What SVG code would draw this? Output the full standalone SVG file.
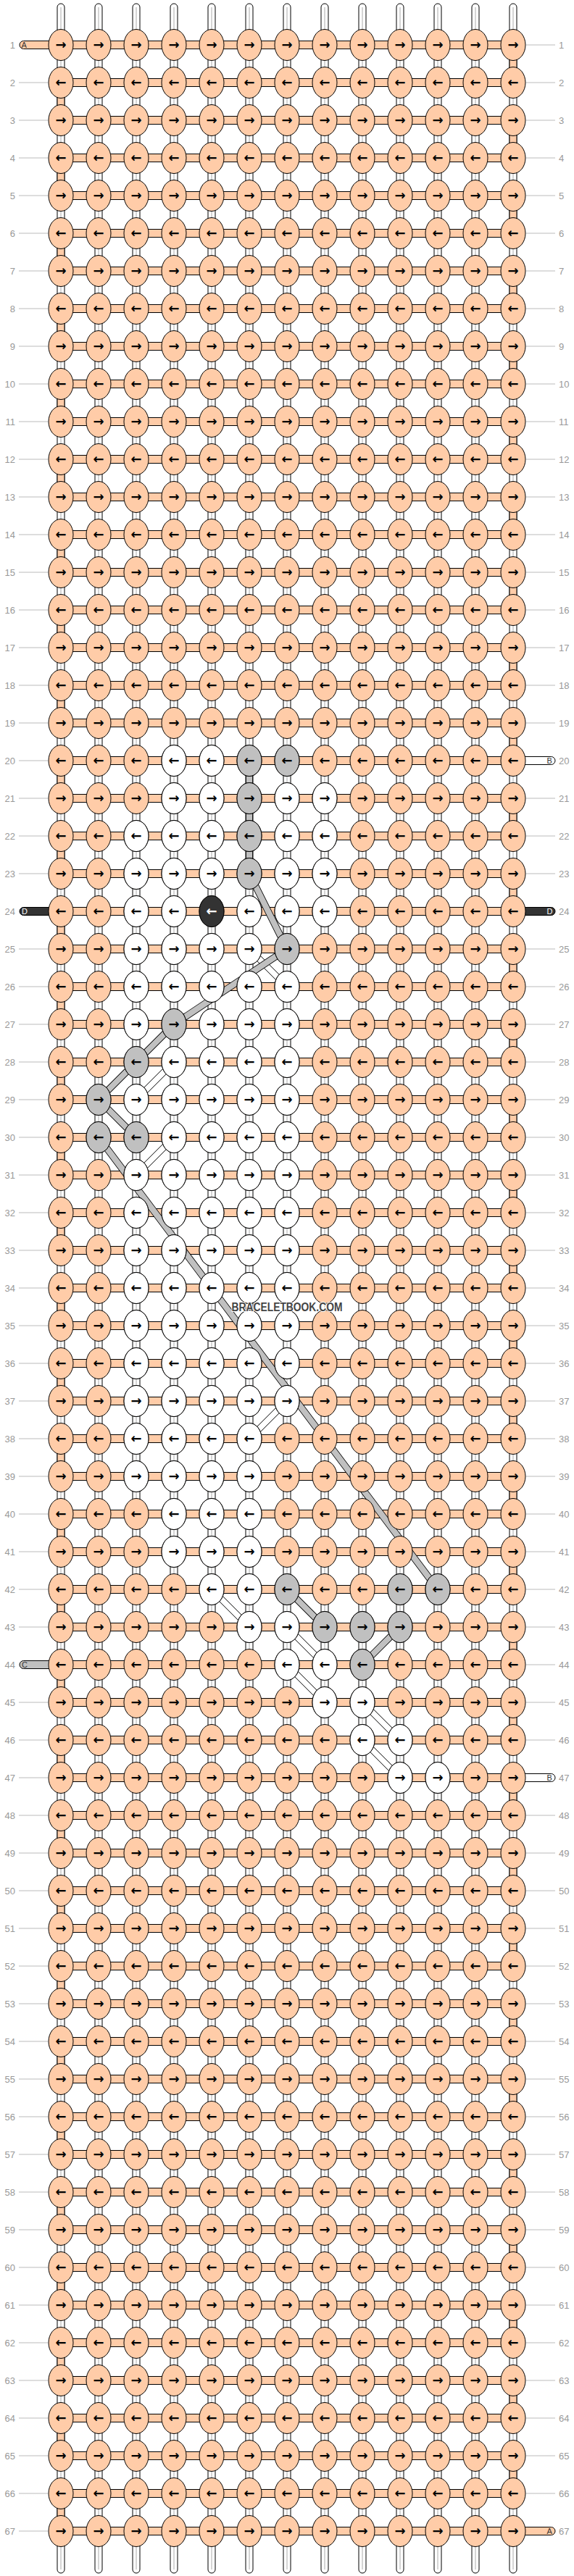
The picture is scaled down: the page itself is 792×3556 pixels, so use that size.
<svg xmlns="http://www.w3.org/2000/svg" xmlns:xlink="http://www.w3.org/1999/xlink" width="792" height="3556" viewBox="0 0 792 3556">
<style>
.s{fill:#ffcca8}.w{fill:#fff}.g{fill:#c0c0c0}.d{fill:#333}
.k{stroke:#000;stroke-width:1}
.a{font:bold 18px "DejaVu Sans",sans-serif;text-anchor:middle;fill:#000}
.n{font:13px "Liberation Sans",Arial,sans-serif;fill:#999}
.r{text-anchor:end}
.ln{stroke:#bbb;stroke-width:1;fill:none}
.vs{fill:#fff;stroke:#000}
.vl{stroke:#aaa;stroke-width:1}
.hs{fill:#ffcca8;stroke:#000}
.bo{fill:none;stroke:#000;stroke-width:9.6}
.bi{fill:none;stroke:#c0c0c0;stroke-width:8}
.wo{fill:none;stroke:#000;stroke-width:9}
.wi{fill:none;stroke:#fff;stroke-width:7.6}
.lt{font:11px "Liberation Sans",Arial,sans-serif;fill:#333}
.lw{fill:#fff}
.wm{font:bold 16px "Liberation Sans",Arial,sans-serif;fill:#444;stroke:#fff;stroke-width:2;paint-order:stroke;text-anchor:middle}
</style>
<defs>
<ellipse id="e" class="k" rx="17" ry="21.5"/>
<g id="R"><use href="#e" x="84"/><use href="#e" x="136"/><use href="#e" x="188"/><use href="#e" x="240"/><use href="#e" x="292"/><use href="#e" x="344"/><use href="#e" x="396"/><use href="#e" x="448"/><use href="#e" x="500"/><use href="#e" x="552"/><use href="#e" x="604"/><use href="#e" x="656"/><use href="#e" x="708"/></g>
<rect id="H" x="84" y="-5.5" width="624" height="11" class="hs"/>
<rect id="T" x="-5" y="20" width="10" height="12" class="hs"/>
<g id="V"><rect x="-5" y="5" width="10" height="3547" rx="5" class="vs"/><line x1="0" x2="0" y1="10" y2="3547" class="vl"/></g>
<path id="gb" d="M344 1050V1206M344 1206L396 1310M396 1310L240 1414M240 1414L136 1518M136 1518L188 1570M136 1570L604 2194M396 2194L448 2246M500 2298L552 2246"/>
<path id="wb" d="M344 1310L396 1362M188 1518L240 1466M188 1622L240 1570M344 1986L396 1934M292 2194L344 2246M396 2246L448 2298M396 2298L448 2350M500 2350L552 2402M500 2402L552 2454"/>
</defs>
<rect width="792" height="3556" fill="#fff"/>
<g id="connectors">
<g id="warp"><use href="#V" x="84"/><use href="#V" x="136"/><use href="#V" x="188"/><use href="#V" x="240"/><use href="#V" x="292"/><use href="#V" x="344"/><use href="#V" x="396"/><use href="#V" x="448"/><use href="#V" x="500"/><use href="#V" x="552"/><use href="#V" x="604"/><use href="#V" x="656"/><use href="#V" x="708"/></g>
<g id="weft"><use href="#H" y="62"/><use href="#H" y="114"/><use href="#H" y="166"/><use href="#H" y="218"/><use href="#H" y="270"/><use href="#H" y="322"/><use href="#H" y="374"/><use href="#H" y="426"/><use href="#H" y="478"/><use href="#H" y="530"/><use href="#H" y="582"/><use href="#H" y="634"/><use href="#H" y="686"/><use href="#H" y="738"/><use href="#H" y="790"/><use href="#H" y="842"/><use href="#H" y="894"/><use href="#H" y="946"/><use href="#H" y="998"/><use href="#H" y="1050"/><use href="#H" y="1102"/><use href="#H" y="1154"/><use href="#H" y="1206"/><use href="#H" y="1258"/><use href="#H" y="1310"/><use href="#H" y="1362"/><use href="#H" y="1414"/><use href="#H" y="1466"/><use href="#H" y="1518"/><use href="#H" y="1570"/><use href="#H" y="1622"/><use href="#H" y="1674"/><use href="#H" y="1726"/><use href="#H" y="1778"/><use href="#H" y="1830"/><use href="#H" y="1882"/><use href="#H" y="1934"/><use href="#H" y="1986"/><use href="#H" y="2038"/><use href="#H" y="2090"/><use href="#H" y="2142"/><use href="#H" y="2194"/><use href="#H" y="2246"/><use href="#H" y="2298"/><use href="#H" y="2350"/><use href="#H" y="2402"/><use href="#H" y="2454"/><use href="#H" y="2506"/><use href="#H" y="2558"/><use href="#H" y="2610"/><use href="#H" y="2662"/><use href="#H" y="2714"/><use href="#H" y="2766"/><use href="#H" y="2818"/><use href="#H" y="2870"/><use href="#H" y="2922"/><use href="#H" y="2974"/><use href="#H" y="3026"/><use href="#H" y="3078"/><use href="#H" y="3130"/><use href="#H" y="3182"/><use href="#H" y="3234"/><use href="#H" y="3286"/><use href="#H" y="3338"/><use href="#H" y="3390"/><use href="#H" y="3442"/><use href="#H" y="3494"/></g>
<g id="turns"><use href="#T" x="708" y="62"/><use href="#T" x="84" y="114"/><use href="#T" x="708" y="166"/><use href="#T" x="84" y="218"/><use href="#T" x="708" y="270"/><use href="#T" x="84" y="322"/><use href="#T" x="708" y="374"/><use href="#T" x="84" y="426"/><use href="#T" x="708" y="478"/><use href="#T" x="84" y="530"/><use href="#T" x="708" y="582"/><use href="#T" x="84" y="634"/><use href="#T" x="708" y="686"/><use href="#T" x="84" y="738"/><use href="#T" x="708" y="790"/><use href="#T" x="84" y="842"/><use href="#T" x="708" y="894"/><use href="#T" x="84" y="946"/><use href="#T" x="708" y="998"/><use href="#T" x="84" y="1050"/><use href="#T" x="708" y="1102"/><use href="#T" x="84" y="1154"/><use href="#T" x="708" y="1206"/><use href="#T" x="84" y="1258"/><use href="#T" x="708" y="1310"/><use href="#T" x="84" y="1362"/><use href="#T" x="708" y="1414"/><use href="#T" x="84" y="1466"/><use href="#T" x="708" y="1518"/><use href="#T" x="84" y="1570"/><use href="#T" x="708" y="1622"/><use href="#T" x="84" y="1674"/><use href="#T" x="708" y="1726"/><use href="#T" x="84" y="1778"/><use href="#T" x="708" y="1830"/><use href="#T" x="84" y="1882"/><use href="#T" x="708" y="1934"/><use href="#T" x="84" y="1986"/><use href="#T" x="708" y="2038"/><use href="#T" x="84" y="2090"/><use href="#T" x="708" y="2142"/><use href="#T" x="84" y="2194"/><use href="#T" x="708" y="2246"/><use href="#T" x="84" y="2298"/><use href="#T" x="708" y="2350"/><use href="#T" x="84" y="2402"/><use href="#T" x="708" y="2454"/><use href="#T" x="84" y="2506"/><use href="#T" x="708" y="2558"/><use href="#T" x="84" y="2610"/><use href="#T" x="708" y="2662"/><use href="#T" x="84" y="2714"/><use href="#T" x="708" y="2766"/><use href="#T" x="84" y="2818"/><use href="#T" x="708" y="2870"/><use href="#T" x="84" y="2922"/><use href="#T" x="708" y="2974"/><use href="#T" x="84" y="3026"/><use href="#T" x="708" y="3078"/><use href="#T" x="84" y="3130"/><use href="#T" x="708" y="3182"/><use href="#T" x="84" y="3234"/><use href="#T" x="708" y="3286"/><use href="#T" x="84" y="3338"/><use href="#T" x="708" y="3390"/><use href="#T" x="84" y="3442"/></g>
<g id="bands"><use href="#wb" class="wo"/><use href="#wb" class="wi"/><use href="#gb" class="bo"/><use href="#gb" class="bi"/></g>
</g>
<g id="row-1" class="s" transform="translate(0,62)"><rect x="27" y="-5.5" width="55" height="11" rx="5.5" class="s k"/><text class="lt" x="29.5" y="4">A</text><use href="#R"/><text class="a" x="84 136 188 240 292 344 396 448 500 552 604 656 708" y="6">→→→→→→→→→→→→→</text><path class="ln" d="M726 0h40"/><text class="n r" x="21" y="4.5">1</text><text class="n" x="771" y="4.5">1</text></g>
<g id="row-2" class="s" transform="translate(0,114)"><use href="#R"/><text class="a" x="84 136 188 240 292 344 396 448 500 552 604 656 708" y="6">←←←←←←←←←←←←←</text><path class="ln" d="M26 0h40M726 0h40"/><text class="n r" x="21" y="4.5">2</text><text class="n" x="771" y="4.5">2</text></g>
<g id="row-3" class="s" transform="translate(0,166)"><use href="#R"/><text class="a" x="84 136 188 240 292 344 396 448 500 552 604 656 708" y="6">→→→→→→→→→→→→→</text><path class="ln" d="M26 0h40M726 0h40"/><text class="n r" x="21" y="4.5">3</text><text class="n" x="771" y="4.5">3</text></g>
<g id="row-4" class="s" transform="translate(0,218)"><use href="#R"/><text class="a" x="84 136 188 240 292 344 396 448 500 552 604 656 708" y="6">←←←←←←←←←←←←←</text><path class="ln" d="M26 0h40M726 0h40"/><text class="n r" x="21" y="4.5">4</text><text class="n" x="771" y="4.5">4</text></g>
<g id="row-5" class="s" transform="translate(0,270)"><use href="#R"/><text class="a" x="84 136 188 240 292 344 396 448 500 552 604 656 708" y="6">→→→→→→→→→→→→→</text><path class="ln" d="M26 0h40M726 0h40"/><text class="n r" x="21" y="4.5">5</text><text class="n" x="771" y="4.5">5</text></g>
<g id="row-6" class="s" transform="translate(0,322)"><use href="#R"/><text class="a" x="84 136 188 240 292 344 396 448 500 552 604 656 708" y="6">←←←←←←←←←←←←←</text><path class="ln" d="M26 0h40M726 0h40"/><text class="n r" x="21" y="4.5">6</text><text class="n" x="771" y="4.5">6</text></g>
<g id="row-7" class="s" transform="translate(0,374)"><use href="#R"/><text class="a" x="84 136 188 240 292 344 396 448 500 552 604 656 708" y="6">→→→→→→→→→→→→→</text><path class="ln" d="M26 0h40M726 0h40"/><text class="n r" x="21" y="4.5">7</text><text class="n" x="771" y="4.5">7</text></g>
<g id="row-8" class="s" transform="translate(0,426)"><use href="#R"/><text class="a" x="84 136 188 240 292 344 396 448 500 552 604 656 708" y="6">←←←←←←←←←←←←←</text><path class="ln" d="M26 0h40M726 0h40"/><text class="n r" x="21" y="4.5">8</text><text class="n" x="771" y="4.5">8</text></g>
<g id="row-9" class="s" transform="translate(0,478)"><use href="#R"/><text class="a" x="84 136 188 240 292 344 396 448 500 552 604 656 708" y="6">→→→→→→→→→→→→→</text><path class="ln" d="M26 0h40M726 0h40"/><text class="n r" x="21" y="4.5">9</text><text class="n" x="771" y="4.5">9</text></g>
<g id="row-10" class="s" transform="translate(0,530)"><use href="#R"/><text class="a" x="84 136 188 240 292 344 396 448 500 552 604 656 708" y="6">←←←←←←←←←←←←←</text><path class="ln" d="M26 0h40M726 0h40"/><text class="n r" x="21" y="4.5">10</text><text class="n" x="771" y="4.5">10</text></g>
<g id="row-11" class="s" transform="translate(0,582)"><use href="#R"/><text class="a" x="84 136 188 240 292 344 396 448 500 552 604 656 708" y="6">→→→→→→→→→→→→→</text><path class="ln" d="M26 0h40M726 0h40"/><text class="n r" x="21" y="4.5">11</text><text class="n" x="771" y="4.5">11</text></g>
<g id="row-12" class="s" transform="translate(0,634)"><use href="#R"/><text class="a" x="84 136 188 240 292 344 396 448 500 552 604 656 708" y="6">←←←←←←←←←←←←←</text><path class="ln" d="M26 0h40M726 0h40"/><text class="n r" x="21" y="4.5">12</text><text class="n" x="771" y="4.5">12</text></g>
<g id="row-13" class="s" transform="translate(0,686)"><use href="#R"/><text class="a" x="84 136 188 240 292 344 396 448 500 552 604 656 708" y="6">→→→→→→→→→→→→→</text><path class="ln" d="M26 0h40M726 0h40"/><text class="n r" x="21" y="4.5">13</text><text class="n" x="771" y="4.5">13</text></g>
<g id="row-14" class="s" transform="translate(0,738)"><use href="#R"/><text class="a" x="84 136 188 240 292 344 396 448 500 552 604 656 708" y="6">←←←←←←←←←←←←←</text><path class="ln" d="M26 0h40M726 0h40"/><text class="n r" x="21" y="4.5">14</text><text class="n" x="771" y="4.5">14</text></g>
<g id="row-15" class="s" transform="translate(0,790)"><use href="#R"/><text class="a" x="84 136 188 240 292 344 396 448 500 552 604 656 708" y="6">→→→→→→→→→→→→→</text><path class="ln" d="M26 0h40M726 0h40"/><text class="n r" x="21" y="4.5">15</text><text class="n" x="771" y="4.5">15</text></g>
<g id="row-16" class="s" transform="translate(0,842)"><use href="#R"/><text class="a" x="84 136 188 240 292 344 396 448 500 552 604 656 708" y="6">←←←←←←←←←←←←←</text><path class="ln" d="M26 0h40M726 0h40"/><text class="n r" x="21" y="4.5">16</text><text class="n" x="771" y="4.5">16</text></g>
<g id="row-17" class="s" transform="translate(0,894)"><use href="#R"/><text class="a" x="84 136 188 240 292 344 396 448 500 552 604 656 708" y="6">→→→→→→→→→→→→→</text><path class="ln" d="M26 0h40M726 0h40"/><text class="n r" x="21" y="4.5">17</text><text class="n" x="771" y="4.5">17</text></g>
<g id="row-18" class="s" transform="translate(0,946)"><use href="#R"/><text class="a" x="84 136 188 240 292 344 396 448 500 552 604 656 708" y="6">←←←←←←←←←←←←←</text><path class="ln" d="M26 0h40M726 0h40"/><text class="n r" x="21" y="4.5">18</text><text class="n" x="771" y="4.5">18</text></g>
<g id="row-19" class="s" transform="translate(0,998)"><use href="#R"/><text class="a" x="84 136 188 240 292 344 396 448 500 552 604 656 708" y="6">→→→→→→→→→→→→→</text><path class="ln" d="M26 0h40M726 0h40"/><text class="n r" x="21" y="4.5">19</text><text class="n" x="771" y="4.5">19</text></g>
<g id="row-20" class="s" transform="translate(0,1050)"><rect x="710" y="-5.5" width="56" height="11" rx="5.5" class="w k"/><text class="lt" x="754.5" y="4">B</text><use href="#R"/><use href="#e" x="240" class="w"/><use href="#e" x="292" class="w"/><use href="#e" x="344" class="g"/><use href="#e" x="396" class="g"/><text class="a" x="84 136 188 240 292 344 396 448 500 552 604 656 708" y="6">←←←←←←←←←←←←←</text><path class="ln" d="M26 0h40"/><text class="n r" x="21" y="4.5">20</text><text class="n" x="771" y="4.5">20</text></g>
<g id="row-21" class="s" transform="translate(0,1102)"><use href="#R"/><use href="#e" x="240" class="w"/><use href="#e" x="292" class="w"/><use href="#e" x="344" class="g"/><use href="#e" x="396" class="w"/><use href="#e" x="448" class="w"/><text class="a" x="84 136 188 240 292 344 396 448 500 552 604 656 708" y="6">→→→→→→→→→→→→→</text><path class="ln" d="M26 0h40M726 0h40"/><text class="n r" x="21" y="4.5">21</text><text class="n" x="771" y="4.5">21</text></g>
<g id="row-22" class="s" transform="translate(0,1154)"><use href="#R"/><use href="#e" x="188" class="w"/><use href="#e" x="240" class="w"/><use href="#e" x="292" class="w"/><use href="#e" x="344" class="g"/><use href="#e" x="396" class="w"/><use href="#e" x="448" class="w"/><text class="a" x="84 136 188 240 292 344 396 448 500 552 604 656 708" y="6">←←←←←←←←←←←←←</text><path class="ln" d="M26 0h40M726 0h40"/><text class="n r" x="21" y="4.5">22</text><text class="n" x="771" y="4.5">22</text></g>
<g id="row-23" class="s" transform="translate(0,1206)"><use href="#R"/><use href="#e" x="188" class="w"/><use href="#e" x="240" class="w"/><use href="#e" x="292" class="w"/><use href="#e" x="344" class="g"/><use href="#e" x="396" class="w"/><use href="#e" x="448" class="w"/><text class="a" x="84 136 188 240 292 344 396 448 500 552 604 656 708" y="6">→→→→→→→→→→→→→</text><path class="ln" d="M26 0h40M726 0h40"/><text class="n r" x="21" y="4.5">23</text><text class="n" x="771" y="4.5">23</text></g>
<g id="row-24" class="s" transform="translate(0,1258)"><rect x="27" y="-5.5" width="55" height="11" rx="5.5" class="d k"/><text class="lt lw" x="30" y="4">D</text><rect x="710" y="-5.5" width="56" height="11" rx="5.5" class="d k"/><text class="lt lw" x="754.5" y="4">D</text><use href="#R"/><use href="#e" x="188" class="w"/><use href="#e" x="240" class="w"/><use href="#e" x="292" class="d"/><use href="#e" x="344" class="w"/><use href="#e" x="396" class="w"/><use href="#e" x="448" class="w"/><text class="a" x="84 136 188 240 292 344 396 448 500 552 604 656 708" y="6">←←←←<tspan fill="#fff">←</tspan>←←←←←←←←</text><text class="n r" x="21" y="4.5">24</text><text class="n" x="771" y="4.5">24</text></g>
<g id="row-25" class="s" transform="translate(0,1310)"><use href="#R"/><use href="#e" x="188" class="w"/><use href="#e" x="240" class="w"/><use href="#e" x="292" class="w"/><use href="#e" x="344" class="w"/><use href="#e" x="396" class="g"/><text class="a" x="84 136 188 240 292 344 396 448 500 552 604 656 708" y="6">→→→→→→→→→→→→→</text><path class="ln" d="M26 0h40M726 0h40"/><text class="n r" x="21" y="4.5">25</text><text class="n" x="771" y="4.5">25</text></g>
<g id="row-26" class="s" transform="translate(0,1362)"><use href="#R"/><use href="#e" x="188" class="w"/><use href="#e" x="240" class="w"/><use href="#e" x="292" class="w"/><use href="#e" x="344" class="w"/><use href="#e" x="396" class="w"/><text class="a" x="84 136 188 240 292 344 396 448 500 552 604 656 708" y="6">←←←←←←←←←←←←←</text><path class="ln" d="M26 0h40M726 0h40"/><text class="n r" x="21" y="4.5">26</text><text class="n" x="771" y="4.5">26</text></g>
<g id="row-27" class="s" transform="translate(0,1414)"><use href="#R"/><use href="#e" x="188" class="w"/><use href="#e" x="240" class="g"/><use href="#e" x="292" class="w"/><use href="#e" x="344" class="w"/><use href="#e" x="396" class="w"/><text class="a" x="84 136 188 240 292 344 396 448 500 552 604 656 708" y="6">→→→→→→→→→→→→→</text><path class="ln" d="M26 0h40M726 0h40"/><text class="n r" x="21" y="4.5">27</text><text class="n" x="771" y="4.5">27</text></g>
<g id="row-28" class="s" transform="translate(0,1466)"><use href="#R"/><use href="#e" x="188" class="g"/><use href="#e" x="240" class="w"/><use href="#e" x="292" class="w"/><use href="#e" x="344" class="w"/><use href="#e" x="396" class="w"/><text class="a" x="84 136 188 240 292 344 396 448 500 552 604 656 708" y="6">←←←←←←←←←←←←←</text><path class="ln" d="M26 0h40M726 0h40"/><text class="n r" x="21" y="4.5">28</text><text class="n" x="771" y="4.5">28</text></g>
<g id="row-29" class="s" transform="translate(0,1518)"><use href="#R"/><use href="#e" x="136" class="g"/><use href="#e" x="188" class="w"/><use href="#e" x="240" class="w"/><use href="#e" x="292" class="w"/><use href="#e" x="344" class="w"/><use href="#e" x="396" class="w"/><text class="a" x="84 136 188 240 292 344 396 448 500 552 604 656 708" y="6">→→→→→→→→→→→→→</text><path class="ln" d="M26 0h40M726 0h40"/><text class="n r" x="21" y="4.5">29</text><text class="n" x="771" y="4.5">29</text></g>
<g id="row-30" class="s" transform="translate(0,1570)"><use href="#R"/><use href="#e" x="136" class="g"/><use href="#e" x="188" class="g"/><use href="#e" x="240" class="w"/><use href="#e" x="292" class="w"/><use href="#e" x="344" class="w"/><use href="#e" x="396" class="w"/><text class="a" x="84 136 188 240 292 344 396 448 500 552 604 656 708" y="6">←←←←←←←←←←←←←</text><path class="ln" d="M26 0h40M726 0h40"/><text class="n r" x="21" y="4.5">30</text><text class="n" x="771" y="4.5">30</text></g>
<g id="row-31" class="s" transform="translate(0,1622)"><use href="#R"/><use href="#e" x="188" class="w"/><use href="#e" x="240" class="w"/><use href="#e" x="292" class="w"/><use href="#e" x="344" class="w"/><use href="#e" x="396" class="w"/><text class="a" x="84 136 188 240 292 344 396 448 500 552 604 656 708" y="6">→→→→→→→→→→→→→</text><path class="ln" d="M26 0h40M726 0h40"/><text class="n r" x="21" y="4.5">31</text><text class="n" x="771" y="4.5">31</text></g>
<g id="row-32" class="s" transform="translate(0,1674)"><use href="#R"/><use href="#e" x="188" class="w"/><use href="#e" x="240" class="w"/><use href="#e" x="292" class="w"/><use href="#e" x="344" class="w"/><use href="#e" x="396" class="w"/><text class="a" x="84 136 188 240 292 344 396 448 500 552 604 656 708" y="6">←←←←←←←←←←←←←</text><path class="ln" d="M26 0h40M726 0h40"/><text class="n r" x="21" y="4.5">32</text><text class="n" x="771" y="4.5">32</text></g>
<g id="row-33" class="s" transform="translate(0,1726)"><use href="#R"/><use href="#e" x="188" class="w"/><use href="#e" x="240" class="w"/><use href="#e" x="292" class="w"/><use href="#e" x="344" class="w"/><use href="#e" x="396" class="w"/><text class="a" x="84 136 188 240 292 344 396 448 500 552 604 656 708" y="6">→→→→→→→→→→→→→</text><path class="ln" d="M26 0h40M726 0h40"/><text class="n r" x="21" y="4.5">33</text><text class="n" x="771" y="4.5">33</text></g>
<g id="row-34" class="s" transform="translate(0,1778)"><use href="#R"/><use href="#e" x="188" class="w"/><use href="#e" x="240" class="w"/><use href="#e" x="292" class="w"/><use href="#e" x="344" class="w"/><use href="#e" x="396" class="w"/><text class="a" x="84 136 188 240 292 344 396 448 500 552 604 656 708" y="6">←←←←←←←←←←←←←</text><path class="ln" d="M26 0h40M726 0h40"/><text class="n r" x="21" y="4.5">34</text><text class="n" x="771" y="4.5">34</text></g>
<g id="row-35" class="s" transform="translate(0,1830)"><use href="#R"/><use href="#e" x="188" class="w"/><use href="#e" x="240" class="w"/><use href="#e" x="292" class="w"/><use href="#e" x="344" class="w"/><use href="#e" x="396" class="w"/><text class="a" x="84 136 188 240 292 344 396 448 500 552 604 656 708" y="6">→→→→→→→→→→→→→</text><path class="ln" d="M26 0h40M726 0h40"/><text class="n r" x="21" y="4.5">35</text><text class="n" x="771" y="4.5">35</text></g>
<g id="row-36" class="s" transform="translate(0,1882)"><use href="#R"/><use href="#e" x="188" class="w"/><use href="#e" x="240" class="w"/><use href="#e" x="292" class="w"/><use href="#e" x="344" class="w"/><use href="#e" x="396" class="w"/><text class="a" x="84 136 188 240 292 344 396 448 500 552 604 656 708" y="6">←←←←←←←←←←←←←</text><path class="ln" d="M26 0h40M726 0h40"/><text class="n r" x="21" y="4.5">36</text><text class="n" x="771" y="4.5">36</text></g>
<g id="row-37" class="s" transform="translate(0,1934)"><use href="#R"/><use href="#e" x="188" class="w"/><use href="#e" x="240" class="w"/><use href="#e" x="292" class="w"/><use href="#e" x="344" class="w"/><use href="#e" x="396" class="w"/><text class="a" x="84 136 188 240 292 344 396 448 500 552 604 656 708" y="6">→→→→→→→→→→→→→</text><path class="ln" d="M26 0h40M726 0h40"/><text class="n r" x="21" y="4.5">37</text><text class="n" x="771" y="4.5">37</text></g>
<g id="row-38" class="s" transform="translate(0,1986)"><use href="#R"/><use href="#e" x="188" class="w"/><use href="#e" x="240" class="w"/><use href="#e" x="292" class="w"/><use href="#e" x="344" class="w"/><text class="a" x="84 136 188 240 292 344 396 448 500 552 604 656 708" y="6">←←←←←←←←←←←←←</text><path class="ln" d="M26 0h40M726 0h40"/><text class="n r" x="21" y="4.5">38</text><text class="n" x="771" y="4.5">38</text></g>
<g id="row-39" class="s" transform="translate(0,2038)"><use href="#R"/><use href="#e" x="188" class="w"/><use href="#e" x="240" class="w"/><use href="#e" x="292" class="w"/><use href="#e" x="344" class="w"/><text class="a" x="84 136 188 240 292 344 396 448 500 552 604 656 708" y="6">→→→→→→→→→→→→→</text><path class="ln" d="M26 0h40M726 0h40"/><text class="n r" x="21" y="4.5">39</text><text class="n" x="771" y="4.5">39</text></g>
<g id="row-40" class="s" transform="translate(0,2090)"><use href="#R"/><use href="#e" x="240" class="w"/><use href="#e" x="292" class="w"/><use href="#e" x="344" class="w"/><text class="a" x="84 136 188 240 292 344 396 448 500 552 604 656 708" y="6">←←←←←←←←←←←←←</text><path class="ln" d="M26 0h40M726 0h40"/><text class="n r" x="21" y="4.5">40</text><text class="n" x="771" y="4.5">40</text></g>
<g id="row-41" class="s" transform="translate(0,2142)"><use href="#R"/><use href="#e" x="240" class="w"/><use href="#e" x="292" class="w"/><use href="#e" x="344" class="w"/><text class="a" x="84 136 188 240 292 344 396 448 500 552 604 656 708" y="6">→→→→→→→→→→→→→</text><path class="ln" d="M26 0h40M726 0h40"/><text class="n r" x="21" y="4.5">41</text><text class="n" x="771" y="4.5">41</text></g>
<g id="row-42" class="s" transform="translate(0,2194)"><use href="#R"/><use href="#e" x="292" class="w"/><use href="#e" x="344" class="w"/><use href="#e" x="396" class="g"/><use href="#e" x="552" class="g"/><use href="#e" x="604" class="g"/><text class="a" x="84 136 188 240 292 344 396 448 500 552 604 656 708" y="6">←←←←←←←←←←←←←</text><path class="ln" d="M26 0h40M726 0h40"/><text class="n r" x="21" y="4.5">42</text><text class="n" x="771" y="4.5">42</text></g>
<g id="row-43" class="s" transform="translate(0,2246)"><use href="#R"/><use href="#e" x="344" class="w"/><use href="#e" x="396" class="w"/><use href="#e" x="448" class="g"/><use href="#e" x="500" class="g"/><use href="#e" x="552" class="g"/><text class="a" x="84 136 188 240 292 344 396 448 500 552 604 656 708" y="6">→→→→→→→→→→→→→</text><path class="ln" d="M26 0h40M726 0h40"/><text class="n r" x="21" y="4.5">43</text><text class="n" x="771" y="4.5">43</text></g>
<g id="row-44" class="s" transform="translate(0,2298)"><rect x="27" y="-5.5" width="55" height="11" rx="5.5" class="g k"/><text class="lt" x="30" y="4">C</text><use href="#R"/><use href="#e" x="396" class="w"/><use href="#e" x="448" class="w"/><use href="#e" x="500" class="g"/><text class="a" x="84 136 188 240 292 344 396 448 500 552 604 656 708" y="6">←←←←←←←←←←←←←</text><path class="ln" d="M726 0h40"/><text class="n r" x="21" y="4.5">44</text><text class="n" x="771" y="4.5">44</text></g>
<g id="row-45" class="s" transform="translate(0,2350)"><use href="#R"/><use href="#e" x="448" class="w"/><use href="#e" x="500" class="w"/><text class="a" x="84 136 188 240 292 344 396 448 500 552 604 656 708" y="6">→→→→→→→→→→→→→</text><path class="ln" d="M26 0h40M726 0h40"/><text class="n r" x="21" y="4.5">45</text><text class="n" x="771" y="4.5">45</text></g>
<g id="row-46" class="s" transform="translate(0,2402)"><use href="#R"/><use href="#e" x="500" class="w"/><use href="#e" x="552" class="w"/><text class="a" x="84 136 188 240 292 344 396 448 500 552 604 656 708" y="6">←←←←←←←←←←←←←</text><path class="ln" d="M26 0h40M726 0h40"/><text class="n r" x="21" y="4.5">46</text><text class="n" x="771" y="4.5">46</text></g>
<g id="row-47" class="s" transform="translate(0,2454)"><rect x="710" y="-5.5" width="56" height="11" rx="5.5" class="w k"/><text class="lt" x="754.5" y="4">B</text><use href="#R"/><use href="#e" x="552" class="w"/><use href="#e" x="604" class="w"/><text class="a" x="84 136 188 240 292 344 396 448 500 552 604 656 708" y="6">→→→→→→→→→→→→→</text><path class="ln" d="M26 0h40"/><text class="n r" x="21" y="4.5">47</text><text class="n" x="771" y="4.5">47</text></g>
<g id="row-48" class="s" transform="translate(0,2506)"><use href="#R"/><text class="a" x="84 136 188 240 292 344 396 448 500 552 604 656 708" y="6">←←←←←←←←←←←←←</text><path class="ln" d="M26 0h40M726 0h40"/><text class="n r" x="21" y="4.5">48</text><text class="n" x="771" y="4.5">48</text></g>
<g id="row-49" class="s" transform="translate(0,2558)"><use href="#R"/><text class="a" x="84 136 188 240 292 344 396 448 500 552 604 656 708" y="6">→→→→→→→→→→→→→</text><path class="ln" d="M26 0h40M726 0h40"/><text class="n r" x="21" y="4.5">49</text><text class="n" x="771" y="4.5">49</text></g>
<g id="row-50" class="s" transform="translate(0,2610)"><use href="#R"/><text class="a" x="84 136 188 240 292 344 396 448 500 552 604 656 708" y="6">←←←←←←←←←←←←←</text><path class="ln" d="M26 0h40M726 0h40"/><text class="n r" x="21" y="4.5">50</text><text class="n" x="771" y="4.5">50</text></g>
<g id="row-51" class="s" transform="translate(0,2662)"><use href="#R"/><text class="a" x="84 136 188 240 292 344 396 448 500 552 604 656 708" y="6">→→→→→→→→→→→→→</text><path class="ln" d="M26 0h40M726 0h40"/><text class="n r" x="21" y="4.5">51</text><text class="n" x="771" y="4.5">51</text></g>
<g id="row-52" class="s" transform="translate(0,2714)"><use href="#R"/><text class="a" x="84 136 188 240 292 344 396 448 500 552 604 656 708" y="6">←←←←←←←←←←←←←</text><path class="ln" d="M26 0h40M726 0h40"/><text class="n r" x="21" y="4.5">52</text><text class="n" x="771" y="4.5">52</text></g>
<g id="row-53" class="s" transform="translate(0,2766)"><use href="#R"/><text class="a" x="84 136 188 240 292 344 396 448 500 552 604 656 708" y="6">→→→→→→→→→→→→→</text><path class="ln" d="M26 0h40M726 0h40"/><text class="n r" x="21" y="4.5">53</text><text class="n" x="771" y="4.5">53</text></g>
<g id="row-54" class="s" transform="translate(0,2818)"><use href="#R"/><text class="a" x="84 136 188 240 292 344 396 448 500 552 604 656 708" y="6">←←←←←←←←←←←←←</text><path class="ln" d="M26 0h40M726 0h40"/><text class="n r" x="21" y="4.5">54</text><text class="n" x="771" y="4.5">54</text></g>
<g id="row-55" class="s" transform="translate(0,2870)"><use href="#R"/><text class="a" x="84 136 188 240 292 344 396 448 500 552 604 656 708" y="6">→→→→→→→→→→→→→</text><path class="ln" d="M26 0h40M726 0h40"/><text class="n r" x="21" y="4.5">55</text><text class="n" x="771" y="4.5">55</text></g>
<g id="row-56" class="s" transform="translate(0,2922)"><use href="#R"/><text class="a" x="84 136 188 240 292 344 396 448 500 552 604 656 708" y="6">←←←←←←←←←←←←←</text><path class="ln" d="M26 0h40M726 0h40"/><text class="n r" x="21" y="4.5">56</text><text class="n" x="771" y="4.5">56</text></g>
<g id="row-57" class="s" transform="translate(0,2974)"><use href="#R"/><text class="a" x="84 136 188 240 292 344 396 448 500 552 604 656 708" y="6">→→→→→→→→→→→→→</text><path class="ln" d="M26 0h40M726 0h40"/><text class="n r" x="21" y="4.5">57</text><text class="n" x="771" y="4.5">57</text></g>
<g id="row-58" class="s" transform="translate(0,3026)"><use href="#R"/><text class="a" x="84 136 188 240 292 344 396 448 500 552 604 656 708" y="6">←←←←←←←←←←←←←</text><path class="ln" d="M26 0h40M726 0h40"/><text class="n r" x="21" y="4.5">58</text><text class="n" x="771" y="4.5">58</text></g>
<g id="row-59" class="s" transform="translate(0,3078)"><use href="#R"/><text class="a" x="84 136 188 240 292 344 396 448 500 552 604 656 708" y="6">→→→→→→→→→→→→→</text><path class="ln" d="M26 0h40M726 0h40"/><text class="n r" x="21" y="4.5">59</text><text class="n" x="771" y="4.5">59</text></g>
<g id="row-60" class="s" transform="translate(0,3130)"><use href="#R"/><text class="a" x="84 136 188 240 292 344 396 448 500 552 604 656 708" y="6">←←←←←←←←←←←←←</text><path class="ln" d="M26 0h40M726 0h40"/><text class="n r" x="21" y="4.5">60</text><text class="n" x="771" y="4.5">60</text></g>
<g id="row-61" class="s" transform="translate(0,3182)"><use href="#R"/><text class="a" x="84 136 188 240 292 344 396 448 500 552 604 656 708" y="6">→→→→→→→→→→→→→</text><path class="ln" d="M26 0h40M726 0h40"/><text class="n r" x="21" y="4.5">61</text><text class="n" x="771" y="4.5">61</text></g>
<g id="row-62" class="s" transform="translate(0,3234)"><use href="#R"/><text class="a" x="84 136 188 240 292 344 396 448 500 552 604 656 708" y="6">←←←←←←←←←←←←←</text><path class="ln" d="M26 0h40M726 0h40"/><text class="n r" x="21" y="4.5">62</text><text class="n" x="771" y="4.5">62</text></g>
<g id="row-63" class="s" transform="translate(0,3286)"><use href="#R"/><text class="a" x="84 136 188 240 292 344 396 448 500 552 604 656 708" y="6">→→→→→→→→→→→→→</text><path class="ln" d="M26 0h40M726 0h40"/><text class="n r" x="21" y="4.5">63</text><text class="n" x="771" y="4.5">63</text></g>
<g id="row-64" class="s" transform="translate(0,3338)"><use href="#R"/><text class="a" x="84 136 188 240 292 344 396 448 500 552 604 656 708" y="6">←←←←←←←←←←←←←</text><path class="ln" d="M26 0h40M726 0h40"/><text class="n r" x="21" y="4.5">64</text><text class="n" x="771" y="4.5">64</text></g>
<g id="row-65" class="s" transform="translate(0,3390)"><use href="#R"/><text class="a" x="84 136 188 240 292 344 396 448 500 552 604 656 708" y="6">→→→→→→→→→→→→→</text><path class="ln" d="M26 0h40M726 0h40"/><text class="n r" x="21" y="4.5">65</text><text class="n" x="771" y="4.5">65</text></g>
<g id="row-66" class="s" transform="translate(0,3442)"><use href="#R"/><text class="a" x="84 136 188 240 292 344 396 448 500 552 604 656 708" y="6">←←←←←←←←←←←←←</text><path class="ln" d="M26 0h40M726 0h40"/><text class="n r" x="21" y="4.5">66</text><text class="n" x="771" y="4.5">66</text></g>
<g id="row-67" class="s" transform="translate(0,3494)"><rect x="710" y="-5.5" width="56" height="11" rx="5.5" class="s k"/><text class="lt" x="754.5" y="4">A</text><use href="#R"/><text class="a" x="84 136 188 240 292 344 396 448 500 552 604 656 708" y="6">→→→→→→→→→→→→→</text><path class="ln" d="M26 0h40"/><text class="n r" x="21" y="4.5">67</text><text class="n" x="771" y="4.5">67</text></g>
<text id="watermark" class="wm" x="396" y="1810" textLength="153" lengthAdjust="spacingAndGlyphs">BRACELETBOOK.COM</text>
</svg>
